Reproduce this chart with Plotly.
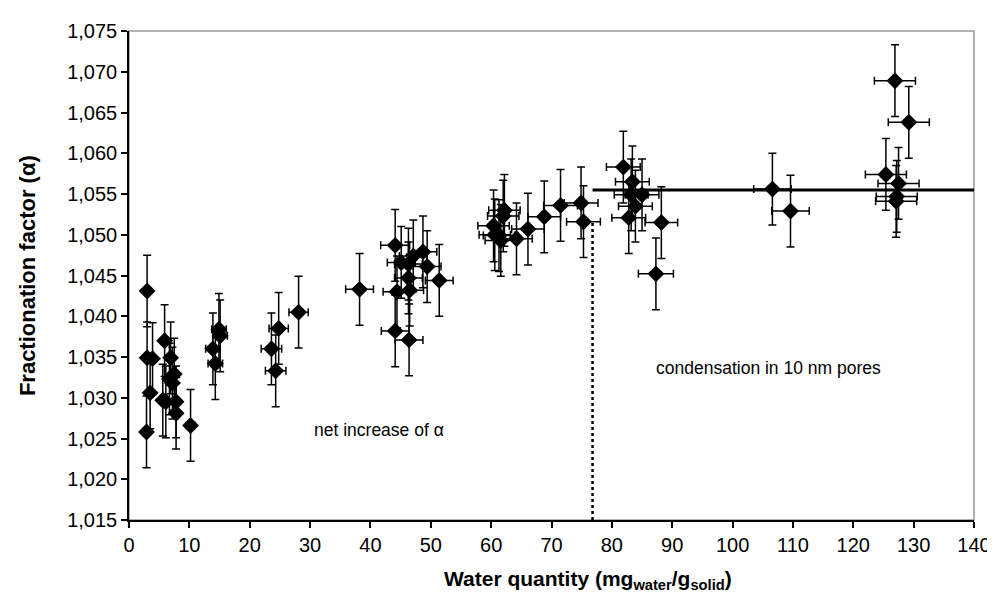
import plotly.graph_objects as go

# Data
water_x = [2.9, 3.0, 3.0, 3.5, 3.9,
           5.9, 5.6, 6.1, 6.9, 6.7, 7.2, 7.5, 7.8, 7.8, 10.2,
           13.9, 14.3, 14.9, 15.1,
           23.6, 24.3, 24.8, 28.1, 38.2,
           44.1, 45.1, 46.3, 47.1, 48.7, 49.4, 51.4, 46.3, 44.4, 46.5, 44.1, 46.4,
           60.4, 62.2, 62.0, 60.6, 61.3, 61.6, 64.2, 66.1, 68.8, 71.5, 74.9, 75.3,
           81.9, 83.4, 83.2, 85.0, 83.9, 82.8, 88.2, 87.3,
           106.6, 109.6, 126.9, 129.2, 125.4, 127.5, 127.2, 127.1]
alpha = [1.0258, 1.0431, 1.0349, 1.0306, 1.0348,
         1.0370, 1.0297, 1.0295, 1.0349, 1.0323, 1.0318, 1.0329, 1.0295, 1.0281, 1.0266,
         1.0360, 1.0342, 1.0384, 1.0376,
         1.0360, 1.0333, 1.0385, 1.0405, 1.0433,
         1.0487, 1.0466, 1.0464, 1.0474, 1.0479, 1.0461, 1.0444, 1.0447, 1.0430, 1.0432, 1.0382, 1.0371,
         1.0511, 1.0530, 1.0523, 1.0500, 1.0499, 1.0493, 1.0495, 1.0507, 1.0522, 1.0536, 1.0539, 1.0516,
         1.0583, 1.0565, 1.0549, 1.0549, 1.0535, 1.0521, 1.0515, 1.0452,
         1.0556, 1.0529, 1.0689, 1.0638, 1.0574, 1.0563, 1.0547, 1.0541]
err_x = [0.4, 0.4, 0.4, 0.4, 0.4,
         0.6, 0.6, 0.6, 0.6, 0.6, 0.6, 0.6, 0.6, 0.6, 0.7,
         1.2, 1.2, 1.2, 1.2,
         1.7, 1.7, 1.6, 1.6, 2.3,
         2.4, 2.3, 2.3, 2.3, 2.3, 2.3, 2.3, 2.3, 2.3, 2.3, 2.3, 2.3,
         2.6, 2.6, 2.6, 2.6, 2.6, 2.6, 2.6, 2.7, 2.7, 2.8, 2.8, 2.8,
         2.8, 2.8, 2.8, 2.8, 2.8, 2.8, 2.7, 2.9,
         3.1, 3.1, 3.4, 3.4, 3.4, 3.4, 3.4, 3.4]
err_y = [0.0044] * len(alpha)

plateau_x = [76.8, 140]
plateau_y = [1.0555, 1.0555]
threshold_x = [76.8, 76.8]
threshold_y = [1.015, 1.0518]

y_ticks = [1.015, 1.020, 1.025, 1.030, 1.035, 1.040, 1.045, 1.050, 1.055, 1.060, 1.065, 1.070, 1.075]
x_ticks = list(range(0, 141, 10))

FONT = "Liberation Sans, Arial, sans-serif"

fig = go.Figure()

fig.add_trace(go.Scatter(
    x=threshold_x, y=threshold_y, mode="lines",
    line=dict(color="black", width=2.5, dash="dot"), showlegend=False, hoverinfo="skip"))
fig.add_trace(go.Scatter(
    x=plateau_x, y=plateau_y, mode="lines",
    line=dict(color="black", width=3), showlegend=False, hoverinfo="skip"))

fig.add_trace(go.Scatter(
    x=water_x, y=alpha, mode="markers",
    marker=dict(symbol="diamond", size=13, color="black"),
    error_x=dict(type="data", array=err_x, color="black", thickness=1.5, width=4),
    error_y=dict(type="data", array=err_y, color="black", thickness=1.5, width=4),
    showlegend=False))

fig.add_annotation(x=41.5, y=1.026, text="net increase of α", showarrow=False,
                   font=dict(family=FONT, size=17.5, color="black"))
fig.add_annotation(x=106, y=1.0337, text="condensation in 10 nm pores", showarrow=False,
                   font=dict(family=FONT, size=17.5, color="black"))

# Axis titles
fig.add_annotation(xref="paper", yref="paper", x=0.543, y=-0.122, yanchor="middle",
                   text="<b>Water quantity (mg<sub>water</sub>/g<sub>solid</sub>)</b>",
                   showarrow=False, font=dict(family=FONT, size=21, color="black"))
fig.add_annotation(xref="paper", yref="paper", x=-0.12, y=0.5, xanchor="center",
                   text="<b>Fractionation factor (α)</b>", textangle=-90,
                   showarrow=False, font=dict(family=FONT, size=22, color="black"))

# Light frame (top/right)
fig.add_shape(type="rect", xref="paper", yref="paper", x0=0, y0=0, x1=1, y1=1,
              line=dict(color="#999999", width=1.5), layer="below")

fig.update_layout(
    width=995, height=596,
    margin=dict(l=121, r=20, t=19, b=84),
    plot_bgcolor="white", paper_bgcolor="white",
    separators=",.",
    font=dict(family=FONT, size=20, color="black"),
    xaxis=dict(range=[0, 140], tickvals=x_ticks, showgrid=False, zeroline=False,
               showline=True, linecolor="black", linewidth=1.5,
               ticks="outside", ticklen=6, tickcolor="black", tickwidth=1.5,
               tickfont=dict(family=FONT, size=20, color="black")),
    yaxis=dict(range=[1.015, 1.075], tickvals=y_ticks, tickformat=".3f",
               showgrid=False, zeroline=False,
               showline=True, linecolor="black", linewidth=1.5,
               ticks="outside", ticklen=6, tickcolor="black", tickwidth=1.5,
               tickfont=dict(family=FONT, size=20, color="black")),
)

fig.write_html("out.html")
